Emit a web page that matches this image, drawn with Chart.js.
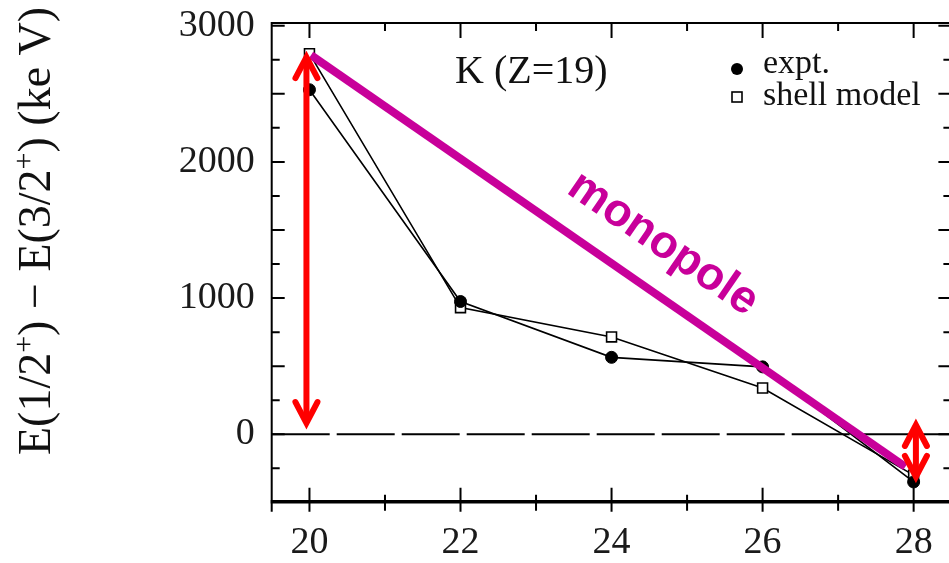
<!DOCTYPE html>
<html>
<head>
<meta charset="utf-8">
<script src="https://cdn.jsdelivr.net/npm/chart.js@4.4.0/dist/chart.umd.min.js"></script>
<style>
  html, body { margin: 0; padding: 0; background: #fff; overflow: hidden; }
  #wrap { width: 960px; height: 563px; }
</style>
</head>
<body>
<div id="wrap"><canvas id="c" width="960" height="563"></canvas></div>
<script>
// --- data (K isotopes, Z = 19) ---
const neutronN = [20, 22, 24, 26, 28];
const exptGap = [2530, 975, 565, 495, -350];     // E(1/2+) - E(3/2+), keV
const shellGap = [2795, 930, 715, 340, -300];

// monopole trend line (end points)
const monopoleN = [20.02, 27.89];
const monopoleGap = [2784, -238];

// red double arrows
const arrowN = [19.96, 28.03];
const arrowLow = [68, -327];
const arrowHigh = [2784, 83];

const xTicks = [20, 22, 24, 26, 28];
const yTicks = [0, 1000, 2000, 3000];
const xRange = [19.5, 28.5];
const yRange = [-495, 3020];

const serif = '"Liberation Serif", "Times New Roman", serif';
const magenta = '#c8009a';

const pts = (xs, ys) => xs.map((v, i) => ({ x: v, y: ys[i] }));

// frame + tick marks on all four sides (inward)
const framePlugin = {
  id: 'frame',
  beforeDatasetsDraw(chart) {
    const { ctx, chartArea: a, scales: { x, y } } = chart;
    ctx.save();
    ctx.strokeStyle = '#000';
    ctx.lineWidth = 2;
    ctx.beginPath();
    ctx.moveTo(a.left, a.bottom + 10);
    ctx.lineTo(a.left, a.top);
    ctx.lineTo(a.right, a.top);
    ctx.lineTo(a.right, a.bottom);
    ctx.stroke();

    ctx.lineWidth = 3.5;
    ctx.beginPath();
    ctx.moveTo(a.left - 1, a.bottom);
    ctx.lineTo(a.right, a.bottom);
    ctx.stroke();

    ctx.lineWidth = 2;
    ctx.beginPath();
    for (let n = 20; n <= 28; n++) {
      const px = x.getPixelForValue(n);
      const major = n % 2 === 0;
      ctx.moveTo(px, a.top);
      ctx.lineTo(px, a.top + (major ? 15 : 8));
      ctx.moveTo(px, a.bottom + (major ? 10 : 9));
      ctx.lineTo(px, a.bottom - (major ? 14 : 7));
    }
    for (let v = -250; v <= 3000; v += 250) {
      const py = y.getPixelForValue(v);
      const len = v % 500 === 0 ? 13 : 8;
      ctx.moveTo(a.left, py);
      ctx.lineTo(a.left + len, py);
      ctx.moveTo(a.right, py);
      ctx.lineTo(a.right - len, py);
    }
    ctx.stroke();
    ctx.restore();
  }
};

// red double-headed arrows
const arrowPlugin = {
  id: 'arrows',
  afterDatasetsDraw(chart) {
    const { ctx, scales: { x, y } } = chart;
    ctx.save();
    ctx.strokeStyle = '#ff0000';
    ctx.lineWidth = 6;
    ctx.lineCap = 'round';
    ctx.lineJoin = 'miter';
    arrowN.forEach((n, i) => {
      const px = x.getPixelForValue(n);
      const top = y.getPixelForValue(arrowHigh[i]);
      const bot = y.getPixelForValue(arrowLow[i]);
      ctx.beginPath();
      ctx.moveTo(px, top + 4);
      ctx.lineTo(px, bot - 4);
      ctx.stroke();
      ctx.beginPath();
      ctx.moveTo(px - 11, top + 23);
      ctx.lineTo(px, top + 2);
      ctx.lineTo(px + 11, top + 23);
      ctx.stroke();
      ctx.beginPath();
      ctx.moveTo(px - 11, bot - 23);
      ctx.lineTo(px, bot - 2);
      ctx.lineTo(px + 11, bot - 23);
      ctx.stroke();
    });
    ctx.restore();
  }
};

// axis title, panel label, legend, "monopole"
const textPlugin = {
  id: 'texts',
  afterDraw(chart) {
    const ctx = chart.ctx;
    const ds = chart.data.datasets;
    ctx.save();
    ctx.fillStyle = '#111';
    ctx.textBaseline = 'alphabetic';

    // y axis title, rotated
    ctx.save();
    ctx.translate(50, 455);
    ctx.rotate(-Math.PI / 2);
    const big = '46px ' + serif, small = '30px ' + serif;
    const parts = [['E(1/2', big, 0], ['+', small, -17], [') \u2212 E(3/2', big, 0], ['+', small, -17], [') (ke V)', big, 0]];
    let cx = 0;
    for (const [t, f, dy] of parts) {
      ctx.font = f;
      ctx.fillText(t, cx, dy);
      cx += ctx.measureText(t).width;
    }
    ctx.restore();

    ctx.font = '40px ' + serif;
    ctx.fillText('K (Z=19)', 455, 83);

    // legend
    ctx.font = '34px ' + serif;
    ctx.fillText(ds[1].label, 763, 73);
    ctx.fillText(ds[2].label, 763, 105);
    ctx.fillStyle = '#000';
    ctx.beginPath();
    ctx.arc(737, 69, 6, 0, Math.PI * 2);
    ctx.fill();
    ctx.strokeStyle = '#000';
    ctx.lineWidth = 1.6;
    ctx.fillStyle = '#fff';
    ctx.fillRect(732, 92, 10, 10);
    ctx.strokeRect(732, 92, 10, 10);

    // monopole label
    ctx.save();
    ctx.translate(663, 244);
    ctx.rotate(34.5 * Math.PI / 180);
    ctx.fillStyle = magenta;
    ctx.font = 'bold 46px "Liberation Sans", Arial, sans-serif';
    ctx.textAlign = 'center';
    ctx.textBaseline = 'middle';
    ctx.fillText(ds[0].label, 0, 0);
    ctx.restore();

    ctx.restore();
  }
};

new Chart(document.getElementById('c'), {
  type: 'line',
  data: {
    datasets: [
      {
        label: 'monopole',
        data: pts(monopoleN, monopoleGap),
        borderColor: magenta,
        borderWidth: 8,
        borderCapStyle: 'butt',
        pointRadius: 0,
        order: 0
      },
      {
        label: 'expt.',
        data: pts(neutronN, exptGap),
        borderColor: '#000',
        borderWidth: 1.6,
        pointStyle: 'circle',
        pointRadius: 6,
        pointBackgroundColor: '#000',
        pointBorderColor: '#000',
        pointBorderWidth: 1,
        order: 1
      },
      {
        label: 'shell model',
        data: pts(neutronN, shellGap),
        borderColor: '#000',
        borderWidth: 1.6,
        pointStyle: 'rect',
        pointRadius: 7,
        pointBackgroundColor: '#fff',
        pointBorderColor: '#000',
        pointBorderWidth: 1.6,
        order: 2
      },
      {
        label: 'zero',
        data: pts(xRange, [0, 0]),
        borderColor: '#000',
        borderWidth: 2,
        borderDash: [58, 7],
        pointRadius: 0,
        order: 3
      }
    ]
  },
  options: {
    responsive: false,
    animation: false,
    layout: { padding: { top: 23, right: 0.9, left: 0, bottom: 0 } },
    plugins: { legend: { display: false }, tooltip: { enabled: false } },
    scales: {
      x: {
        type: 'linear',
        min: xRange[0],
        max: xRange[1],
        grid: { display: false, drawTicks: false },
        border: { display: false },
        afterFit: s => { s.height = 61.3; s.paddingLeft = 0; s.paddingRight = 0; },
        afterBuildTicks: s => { s.ticks = xTicks.map(v => ({ value: v })); },
        ticks: {
          color: '#1a1a1a',
          font: { family: serif, size: 38 },
          padding: 19,
          maxRotation: 0,
          autoSkip: false,
          callback: v => String(v)
        }
      },
      y: {
        min: yRange[0],
        max: yRange[1],
        grid: { display: false, drawTicks: false },
        border: { display: false },
        afterFit: s => { s.width = 271.7; s.paddingTop = 0; s.paddingBottom = 0; },
        afterBuildTicks: s => { s.ticks = yTicks.map(v => ({ value: v })); },
        ticks: {
          color: '#1a1a1a',
          font: { family: serif, size: 38 },
          padding: 17,
          callback: v => String(v)
        }
      }
    }
  },
  plugins: [framePlugin, arrowPlugin, textPlugin]
});
</script>
</body>
</html>
